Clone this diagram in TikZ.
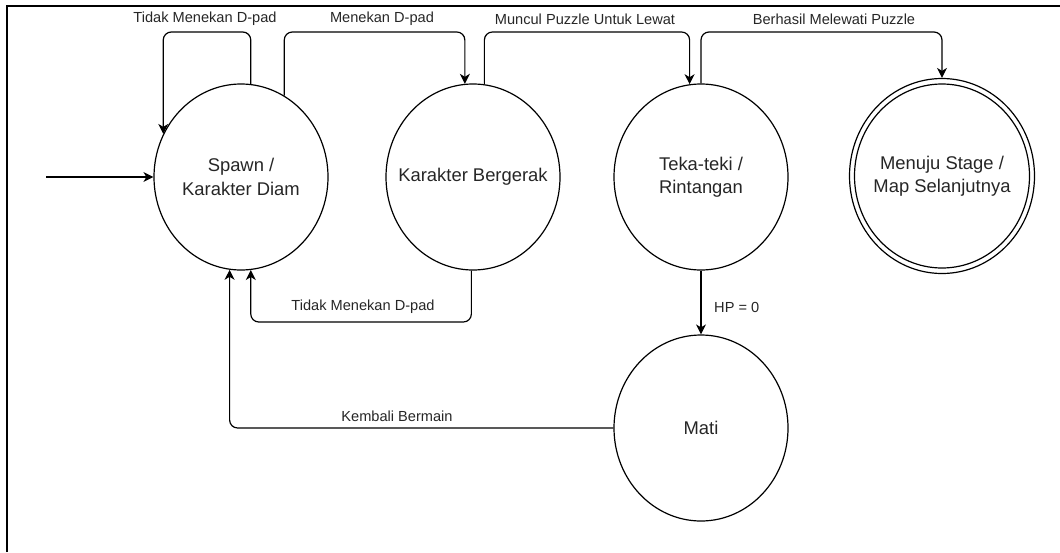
\documentclass[tikz,border=0pt]{standalone}
\usepackage{fontspec}
\setmainfont{Liberation Sans}
\usetikzlibrary{shapes.geometric,arrows.meta}
\begin{document}
\begin{tikzpicture}[x=1pt,y=-1pt,
  state/.style={ellipse,draw,line width=1.2pt,minimum width=174pt,minimum height=186pt,inner sep=0pt},
  stxt/.style={font=\fontsize{18.4}{23.5}\selectfont,text=black!85,align=center},
  lbl/.style={font=\fontsize{14.6}{17}\selectfont,text=black!85,inner sep=0pt},
  arr/.style={-{Stealth[length=10pt,width=10pt,inset=3pt]},line width=1.2pt,rounded corners=8pt},
]
\useasboundingbox (0,0) rectangle (1060,552);
% frame edges
\draw[line width=2pt] (7,552) -- (7,5.7) -- (1060,5.7);

% states
\node[state,label={[stxt]center:Spawn /\\Karakter Diam}] (S) at (241,177) {};
\node[state,label={[stxt]center:Karakter Bergerak}] (B) at (473,177) {};
\node[state,label={[stxt]center:Teka-teki /\\Rintangan}] (T) at (701,177) {};
\node[state,minimum width=185pt,minimum height=195pt,label={[stxt]center:Menuju Stage /\\Map Selanjutnya}] (M) at (942,176) {};
\node[state,minimum width=175pt,minimum height=184pt] (Mi) at (942,176) {};
\node[state,label={[stxt]center:Mati}] (D) at (701,428) {};

% routing points
\coordinate (init) at (46,177);
\coordinate (t1) at (208,32);
\coordinate (t2) at (380,32);
\coordinate (t3) at (585,32);
\coordinate (t4) at (830,32);
\coordinate (b1) at (360,322);

% transitions
\draw[arr] (init) -- (S);
\draw[arr] (S.84) |- (t1) -| (S.151);
\draw[arr] (S.62) |- (t2) -| (B.95);
\draw[arr] (B.83) |- (t3) -| (T.97);
\draw[arr] (T.north) |- (t4) -| (M.north);
\draw[arr] (B.269) |- (b1) -| (S.276);
\draw[arr] (T.south) -- (D.north);
\draw[arr] (D.west) -| (S.263);

% transition labels
\node[lbl] (l1) at (205,19) {Tidak Menekan D-pad};
\node[lbl] (l2) at (382,19) {Menekan D-pad};
\node[lbl] (l3) at (585,19) {Muncul Puzzle Untuk Lewat};
\node[lbl] (l4) at (834,19) {Berhasil Melewati Puzzle};
\node[lbl] (l5) at (363,307) {Tidak Menekan D-pad};
\node[lbl,anchor=west] (l6) at (714,307) {HP = 0};
\node[lbl] (l7) at (397,416) {Kembali Bermain};
\end{tikzpicture}
\end{document}
